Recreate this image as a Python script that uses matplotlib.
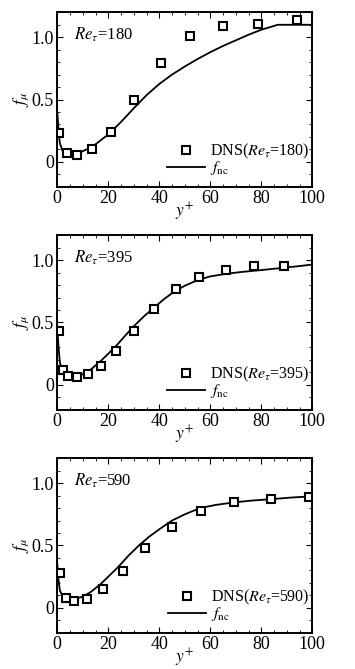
import matplotlib
matplotlib.use("Agg")
import matplotlib.pyplot as plt
from matplotlib.ticker import MultipleLocator

plt.rcParams['font.family'] = ['Liberation Serif', 'DejaVu Serif']
plt.rcParams['mathtext.fontset'] = 'stix'

# DNS data, Re_tau = 180
dns180_x = [0.5, 3.7, 7.8, 13.7, 21.2, 30.1, 40.5, 52.2, 65.1, 78.7, 94.0]
dns180_y = [0.234, 0.069, 0.053, 0.10, 0.24, 0.50, 0.795, 1.008, 1.09, 1.11, 1.138]
# model curve, Re_tau = 180
fnc180_x = [0, 0.5, 1, 2, 3, 5, 7, 10, 14, 20, 25, 30, 35, 40, 45, 50, 55, 60, 65, 70, 75, 80, 86.5, 100]
fnc180_y = [0.40, 0.25, 0.15, 0.09, 0.07, 0.062, 0.065, 0.085, 0.125, 0.22, 0.32, 0.43, 0.535, 0.625, 0.70, 0.765, 0.825, 0.88, 0.93, 0.975, 1.02, 1.06, 1.10, 1.10]

# DNS data, Re_tau = 395
dns395_x = [0.8, 2.1, 4.3, 7.8, 11.9, 17.0, 23.0, 29.9, 37.8, 46.4, 55.7, 66.0, 77.1, 88.8]
dns395_y = [0.428, 0.122, 0.069, 0.059, 0.088, 0.154, 0.269, 0.428, 0.609, 0.766, 0.867, 0.920, 0.952, 0.957]
fnc395_x = [0, 0.5, 1, 2, 3, 5, 7, 10, 13, 17, 20, 23, 26, 30, 34, 38, 42, 46, 50, 55, 60, 66, 72, 77, 83, 89, 95, 100]
fnc395_y = [0.45, 0.30, 0.18, 0.11, 0.085, 0.07, 0.07, 0.085, 0.12, 0.19, 0.25, 0.31, 0.38, 0.47, 0.55, 0.62, 0.69, 0.75, 0.795, 0.84, 0.87, 0.89, 0.905, 0.915, 0.927, 0.94, 0.953, 0.965]

# DNS data, Re_tau = 590
dns590_x = [1.0, 3.3, 6.7, 11.8, 18.0, 25.6, 34.5, 44.8, 56.5, 69.4, 83.7, 98.7]
dns590_y = [0.282, 0.080, 0.051, 0.074, 0.154, 0.295, 0.476, 0.652, 0.774, 0.848, 0.875, 0.886]
fnc590_x = [0, 0.5, 1, 2, 3, 5, 7, 10, 13, 17, 20, 24, 28, 32, 36, 40, 45, 50, 56, 62, 69, 76, 84, 92, 100]
fnc590_y = [0.35, 0.22, 0.14, 0.095, 0.08, 0.07, 0.07, 0.09, 0.125, 0.19, 0.25, 0.33, 0.42, 0.50, 0.57, 0.63, 0.70, 0.75, 0.80, 0.825, 0.845, 0.86, 0.872, 0.885, 0.895]

panels = [
    ("180", dns180_x, dns180_y, fnc180_x, fnc180_y),
    ("395", dns395_x, dns395_y, fnc395_x, fnc395_y),
    ("590", dns590_x, dns590_y, fnc590_x, fnc590_y),
]

fig = plt.figure(figsize=(3.55, 6.69), dpi=100)
bottoms = [0.7209, 0.3876, 0.0543]

for (re, dx, dy, lx, ly), b in zip(panels, bottoms):
    ax = fig.add_axes([0.1614, b, 0.7183, 0.2607])
    line, = ax.plot(lx, ly, color='k', lw=1.3)
    pts, = ax.plot(dx, dy, ls='none', marker='s', ms=6, mfc='white', mec='k', mew=1.5)
    ax.set_xlim(0, 100)
    ax.set_ylim(-0.2, 1.2)
    ax.set_xticks([0, 20, 40, 60, 80, 100])
    ax.set_yticks([0, 0.5, 1.0])
    ax.set_yticklabels(['0', '0.5', '1.0'])
    ax.xaxis.set_minor_locator(MultipleLocator(5))
    ax.yaxis.set_minor_locator(MultipleLocator(0.1))
    ax.tick_params(which='both', direction='in', top=True, right=True, labelsize=13, pad=2.5)
    ax.tick_params(which='major', length=4, width=0.8)
    ax.tick_params(which='minor', length=2, width=0.6)
    for s in ax.spines.values():
        s.set_linewidth(1.4)
    ax.set_xlabel('$y^{+}$', fontsize=12.5, labelpad=-5)
    ax.set_ylabel('$f_{\\mu}$', fontsize=12.5, labelpad=0)
    ax.text(0.065, 0.845, '$Re_{\\tau}$=' + re, transform=ax.transAxes, fontsize=12)
    ax.legend([pts, line], ['DNS($Re_{\\tau}$=' + re + ')', '$f_{\\rm nc}$'],
              loc='lower right', bbox_to_anchor=(1.0, 0.035), frameon=False,
              fontsize=11.5, labelspacing=-0.1, handlelength=2.4, handletextpad=0.3,
              borderpad=0.1, borderaxespad=0.1)

fig.savefig('out.png', dpi=100)
